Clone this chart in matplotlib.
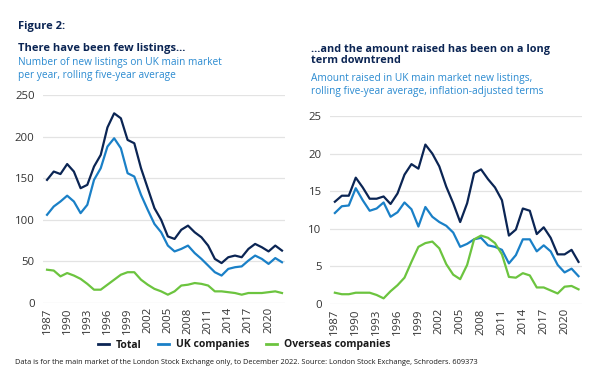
import matplotlib
matplotlib.use("Agg")
from matplotlib import pyplot as plt
from matplotlib.lines import Line2D

plt.rcParams["font.family"] = ["Open Sans", "DejaVu Sans"]

# ── DATA ────────────────────────────────────────────────────────────────────
years = list(range(1987, 2023))
tick_years = list(range(1987, 2021, 3))

# Number of new listings, rolling five-year average
listings_total = [148, 158, 155, 167, 158, 138, 142, 164, 178, 211, 228, 222,
                  196, 192, 162, 138, 114, 100, 80, 77, 88, 93, 85, 79,
                  69, 53, 48, 55, 57, 55, 65, 71, 67, 62, 69, 63]
listings_uk = [106, 116, 122, 129, 122, 108, 118, 148, 162, 188, 198, 186,
               156, 152, 130, 112, 95, 85, 69, 62, 65, 69, 60, 53,
               45, 37, 33, 41, 43, 44, 51, 57, 53, 47, 54, 49]
listings_overseas = [40, 39, 32, 36, 33, 29, 23, 16, 16, 22, 28, 34,
                     37, 37, 28, 22, 17, 14, 10, 14, 21, 22, 24, 23,
                     21, 14, 14, 13, 12, 10, 12, 12, 12, 13, 14, 12]

# Amount raised, rolling five-year average, inflation-adjusted
raised_total = [13.6, 14.4, 14.4, 16.8, 15.5, 14.0, 14.0, 14.3, 13.3, 14.7, 17.2, 18.6,
                18.0, 21.2, 20.0, 18.3, 15.6, 13.4, 10.9, 13.4, 17.4, 17.9, 16.6, 15.5,
                13.8, 9.1, 9.9, 12.7, 12.4, 9.3, 10.2, 8.8, 6.6, 6.6, 7.2, 5.6]
raised_uk = [12.1, 13.0, 13.1, 15.4, 13.8, 12.4, 12.7, 13.5, 11.6, 12.2, 13.5, 12.6,
             10.3, 12.9, 11.6, 10.9, 10.4, 9.5, 7.6, 8.0, 8.6, 8.8, 7.8, 7.6,
             7.2, 5.4, 6.5, 8.6, 8.6, 7.0, 7.8, 7.0, 5.2, 4.2, 4.7, 3.7]
raised_overseas = [1.5, 1.3, 1.3, 1.5, 1.5, 1.5, 1.2, 0.75, 1.7, 2.5, 3.5, 5.6,
                   7.6, 8.1, 8.3, 7.4, 5.3, 3.9, 3.3, 5.2, 8.6, 9.1, 8.8, 8.1,
                   6.6, 3.6, 3.5, 4.1, 3.8, 2.2, 2.2, 1.8, 1.4, 2.3, 2.4, 1.95]

series_names = ["Total", "UK companies", "Overseas companies"]

# ── STYLE ───────────────────────────────────────────────────────────────────
NAVY = "#0b2554"
BLUE = "#1a80c7"
GREEN = "#6cc43f"
TITLE_BLUE = "#2a8ad0"
GRID = "#e3e3e3"
colors = [NAVY, BLUE, GREEN]

fig = plt.figure(figsize=(6.02, 3.84), dpi=100)
fig.patch.set_facecolor("white")


def style_axes(ax, ymax, ystep, xlim):
    ax.set_xlim(*xlim)
    ax.set_ylim(0, ymax)
    ax.set_yticks(range(0, ymax + 1, ystep))
    ax.set_xticks(tick_years)
    ax.set_xticklabels([str(y) for y in tick_years], rotation=90)
    ax.grid(axis="y", color=GRID, linewidth=0.9)
    ax.set_axisbelow(True)
    for s in ax.spines.values():
        s.set_visible(False)
    ax.tick_params(length=0, labelsize=8.2, colors="#333333")
    ax.tick_params(axis="y", pad=6)
    ax.tick_params(axis="x", pad=3)


# ── LEFT: number of listings ────────────────────────────────────────────────
ax1 = fig.add_axes([43 / 602, 1 - 303 / 384, 242 / 602, 208 / 384])
for vals, c in zip([listings_total, listings_uk, listings_overseas], colors):
    ax1.plot(years, vals, color=c, linewidth=1.6)
style_axes(ax1, 250, 50, (1986.4, 2022.45))

# ── RIGHT: amount raised ────────────────────────────────────────────────────
ax2 = fig.add_axes([330 / 602, 1 - 304 / 384, 252 / 602, 188 / 384])
for vals, c in zip([raised_total, raised_uk, raised_overseas], colors):
    ax2.plot(years, vals, color=c, linewidth=1.6)
style_axes(ax2, 25, 5, (1986.3, 2022.5))

# ── TEXT ────────────────────────────────────────────────────────────────────
fig.text(18 / 602, 1 - 26 / 384, "Figure 2:", fontsize=8, fontweight="bold",
         color=NAVY, va="center")
fig.text(18 / 602, 1 - 49 / 384, "There have been few listings…", fontsize=8,
         fontweight="bold", color=NAVY, va="center")
fig.text(18 / 602, 1 - 69 / 384,
         "Number of new listings on UK main market\nper year, rolling five-year average",
         fontsize=7.3, color=TITLE_BLUE, va="center", linespacing=1.15)

fig.text(311 / 602, 1 - 55 / 384,
         "…and the amount raised has been on a long\nterm downtrend",
         fontsize=7.8, fontweight="bold", color=NAVY, va="center", linespacing=1.08)
fig.text(311 / 602, 1 - 85 / 384,
         "Amount raised in UK main market new listings,\nrolling five-year average, inflation-adjusted terms",
         fontsize=7.3, color=TITLE_BLUE, va="center", linespacing=1.15)

# legend
handles = [Line2D([0], [0], color=c, linewidth=2) for c in colors]
leg = fig.legend(handles, series_names, loc="center", bbox_to_anchor=(244 / 602, 1 - 345 / 384),
                 ncol=3, frameon=False, handlelength=1.1, handletextpad=0.6,
                 columnspacing=1.6, prop={"weight": "bold", "size": 7.5})
for t in leg.get_texts():
    t.set_color("#1a1a1a")

fig.text(15 / 602, 1 - 362 / 384,
         "Data is for the main market of the London Stock Exchange only, to December 2022. "
         "Source: London Stock Exchange, Schroders. 609373",
         fontsize=5.3, color="#1a1a1a", va="center")

plt.savefig("out.png", dpi=100, facecolor="white")
